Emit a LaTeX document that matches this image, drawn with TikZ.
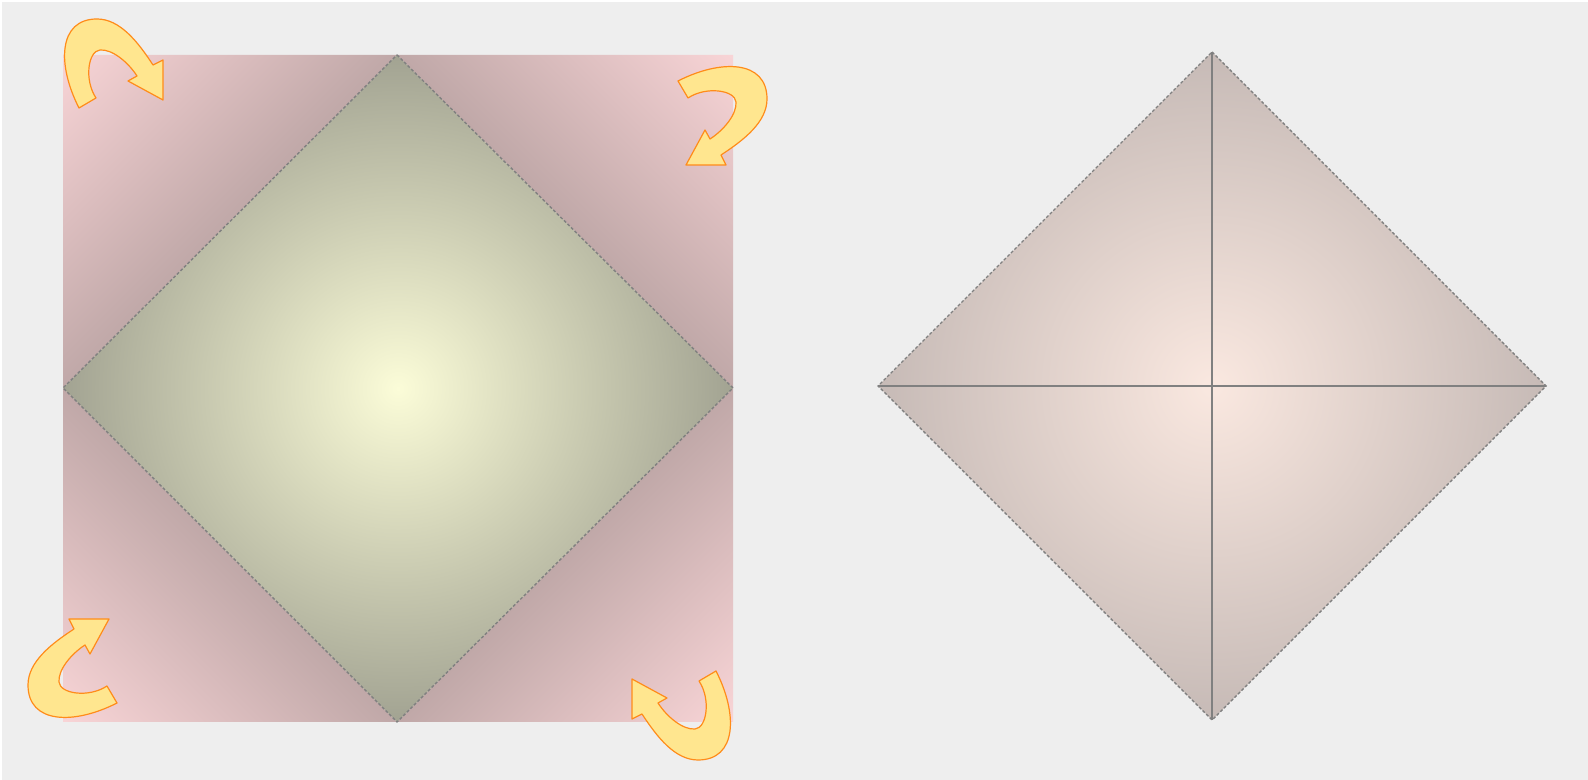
\documentclass[tikz,border=0pt]{standalone}
\usepackage{tikz}

\definecolor{paper}{HTML}{EEEEEE}
\definecolor{cornerpink}{HTML}{F8D4D6}
\definecolor{cornerdark}{HTML}{C0A8A8}
\definecolor{kitein}{HTML}{FBFCD8}
\definecolor{kiteout}{HTML}{A2A392}
\definecolor{foldin}{HTML}{FAE8E0}
\definecolor{foldout}{HTML}{C6BAB6}
\definecolor{arrowyellow}{HTML}{FFE68F}
\definecolor{arroworange}{HTML}{FF8C1A}

% fade from the outer corner (pink) to the diagonal fold (dark)
\pgfdeclareverticalshading{cornerfade}{100bp}{color(0bp)=(cornerpink); color(14.6bp)=(cornerpink);
  color(50bp)=(cornerdark); color(100bp)=(cornerdark)}

\begin{document}
\begin{tikzpicture}[
  x=0.5pt, y=0.5pt,
  foldline/.style={draw=gray, line width=0.7pt, dash pattern=on 1.5pt off 1pt},
  creaseline/.style={draw=gray, line width=0.6pt},
  arrowfill/.style={fill=arrowyellow, draw=arroworange, line width=0.6pt, line join=round},
  turnarrow/.pic={
    \draw[arrowfill] (-84,-8) .. controls (-106,35) and (-105,81) .. (-66,81)
      .. controls (-43,81) and (-25,58) .. (-10,35) -- (0,40) -- (0,0) -- (-35,19) -- (-26,24)
      .. controls (-35,38) and (-51,51) .. (-63,50)
      .. controls (-75,49) and (-79,20) .. (-67,2) -- cycle;
  }
]
\fill[white] (0,0) rectangle (1588,780);
\fill[paper] (2,0) rectangle (1588,778);

% Left sheet: square and its corners
\coordinate (lnw) at (63,725);
\coordinate (lne) at (733,725);
\coordinate (lsw) at (63,58);
\coordinate (lse) at (733,58);
\coordinate (ltop) at (397,725);
\coordinate (lright) at (733,392);
\coordinate (lbot) at (397,58);
\coordinate (lleft) at (63,392);

\shade[shading=cornerfade, shading angle=225] (lnw) -- (ltop) -- (lleft) -- cycle;
\shade[shading=cornerfade, shading angle=135] (lne) -- (ltop) -- (lright) -- cycle;
\shade[shading=cornerfade, shading angle=-45] (lsw) -- (lbot) -- (lleft) -- cycle;
\shade[shading=cornerfade, shading angle=45] (lse) -- (lbot) -- (lright) -- cycle;

% inner diamond
\shade[inner color=kitein, outer color=kiteout] (ltop) -- (lright) -- (lbot) -- (lleft) -- cycle;
\draw[foldline] (ltop) -- (lright) -- (lbot) -- (lleft) -- cycle;

% Folding arrows at the corners
\foreach \px/\py/\ang in {163/680/0, 686/615/-90, 632/101/180, 109/161/90}
  \pic[rotate=\ang] at (\px,\py) {turnarrow};

% Right sheet: folded diamond
\coordinate (rtop) at (1212,728);
\coordinate (rright) at (1546,394);
\coordinate (rbot) at (1212,60);
\coordinate (rleft) at (878,394);

\shade[inner color=foldin, outer color=foldout] (rtop) -- (rright) -- (rbot) -- (rleft) -- cycle;
\draw[creaseline] (rtop) -- (rbot);
\draw[creaseline] (rleft) -- (rright);
\draw[foldline] (rtop) -- (rright) -- (rbot) -- (rleft) -- cycle;

\pgfresetboundingbox
\useasboundingbox (0,0) rectangle (1588,780);
\end{tikzpicture}
\end{document}
